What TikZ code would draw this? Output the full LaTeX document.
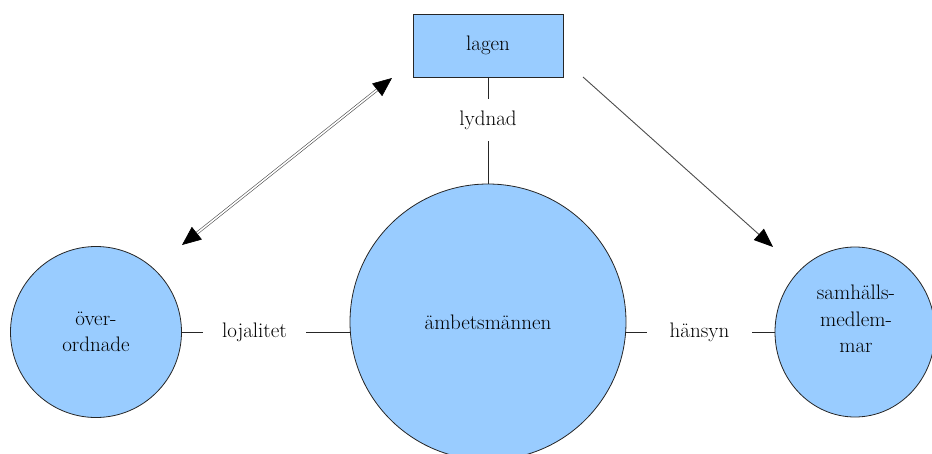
\documentclass[tikz,border=0pt]{standalone}
\usetikzlibrary{arrows.meta,shapes.geometric}
\definecolor{fillblue}{HTML}{99CCFF}
\begin{document}
\begin{tikzpicture}[x=1pt,y=-1pt,
  shapefill/.style={fill=fillblue,draw=black!85,line width=0.8pt},
  txt/.style={font=\fontsize{21}{26.5}\selectfont,align=center,inner sep=0pt},
  circ/.style={shapefill,txt,circle},
  lbl/.style={txt,minimum height=42pt},
  conn/.style={draw=black!85,line width=0.9pt},
  arr/.style={draw=black!70,line width=0.9pt,-{Triangle[length=19pt,width=15pt,color=black]}},
  darr/.style={draw=black!70,line width=0.6pt,double=white,double distance=1.6pt,
    {Triangle[length=19pt,width=16pt,color=black]}-{Triangle[length=19pt,width=16pt,color=black]}},
]
\useasboundingbox (0,0) rectangle (932,453);

\node[shapefill,txt,rectangle,minimum width=150pt,minimum height=63pt] (lagen) at (488,45.5) {lagen};
\node[circ,minimum size=276pt] (amb) at (488,322) {ämbetsmännen};
\node[circ,minimum size=171pt] (over) at (96,332) {över-\\ordnade};
\node[shapefill,ellipse,inner sep=0pt,minimum width=160pt,minimum height=170pt] (samh) at (855,332) {};
\node[txt] (samhtxt) at (856,319) {samhälls-\\medlem-\\mar};

\node[lbl] (lydnad) at (488,120) {lydnad};
\node[lbl,minimum width=103pt] (loj) at (254.5,332) {lojalitet};
\node[lbl,minimum width=105pt] (hans) at (699.5,332) {hänsyn};

\draw[conn] (lagen) -- (lydnad);
\draw[conn] (lydnad) -- (amb);
\draw[conn] (over.east) -- (loj.west);
\draw[conn] (loj.east) -- (loj.east -| amb.west);
\draw[conn] (hans.west -| amb.east) -- (hans.west);
\draw[conn] (hans.east) -- (samh.west);

\coordinate (a1) at (182,245);
\coordinate (a2) at (392,78);
\draw[darr] (a1) -- (a2);
\coordinate (b1) at (583,77);
\coordinate (b2) at (773,247);
\draw[arr] (b1) -- (b2);
\end{tikzpicture}
\end{document}
